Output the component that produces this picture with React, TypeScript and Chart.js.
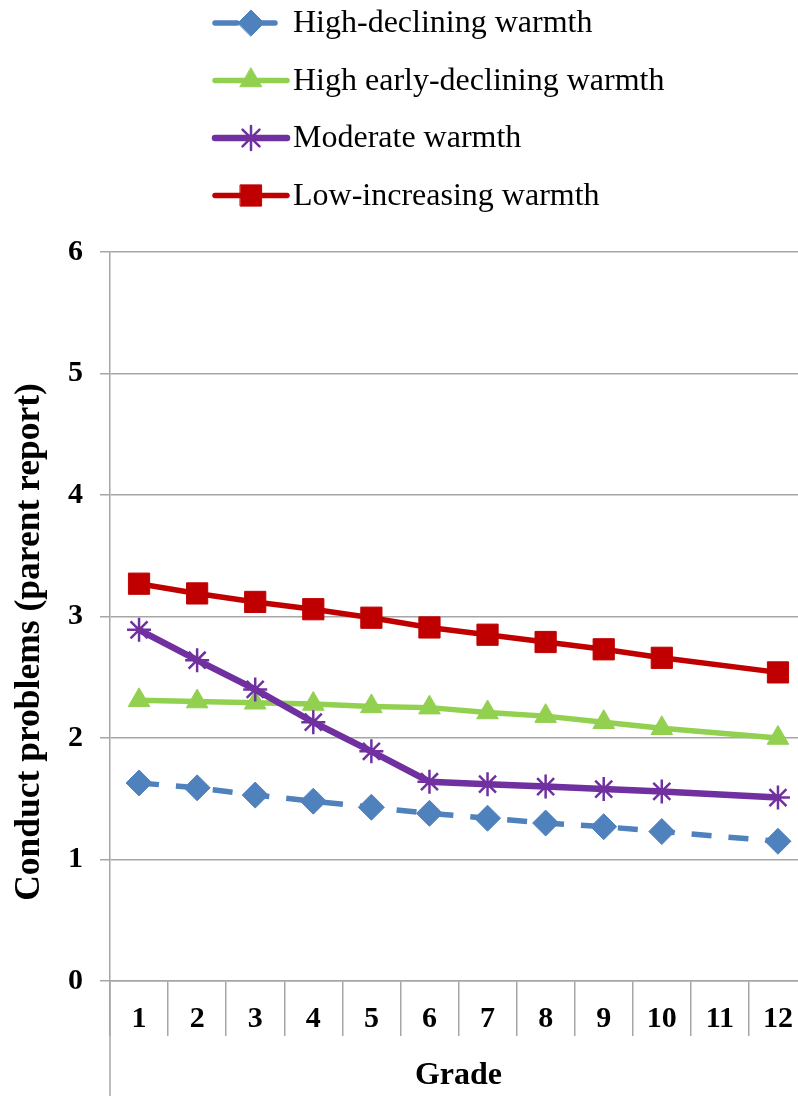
import React, { useEffect, useRef } from "react";
import { Chart, registerables } from "chart.js";
import { drawPoint } from "chart.js/helpers";

Chart.register(...registerables);

const GRADES = ["1", "2", "3", "4", "5", "6", "7", "8", "9", "10", "11", "12"];
const HIGH_DECLINING = [1.63, 1.59, 1.53, 1.48, 1.43, 1.38, 1.34, 1.30, 1.27, 1.23, null, 1.15];
const HIGH_EARLY_DECLINING = [2.31, 2.30, 2.29, 2.28, 2.26, 2.25, 2.21, 2.18, 2.13, 2.08, null, 2.0];
const MODERATE = [2.89, 2.64, 2.40, 2.13, 1.89, 1.64, 1.62, 1.60, 1.58, 1.56, null, 1.51];
const LOW_INCREASING = [3.27, 3.19, 3.12, 3.06, 2.99, 2.91, 2.85, 2.79, 2.73, 2.66, null, 2.54];
const SERIES_NAMES = [
  "High-declining warmth",
  "High early-declining warmth",
  "Moderate warmth",
  "Low-increasing warmth",
];
const Y_TITLE = "Conduct problems (parent report)";
const X_TITLE = "Grade";

const GRID = "#a6a6a6";
const FONT = '"Liberation Serif", "Times New Roman", serif';
const CANVAS_W = 810;
const CANVAS_H = 1096;

const legendPlugin = {
  id: "customDecor",
  afterDraw(chart: any) {
    const ctx = chart.ctx as CanvasRenderingContext2D;
    const { left, bottom } = chart.chartArea;
    ctx.save();
    ctx.strokeStyle = GRID;
    ctx.lineWidth = 1.5;
    ctx.beginPath();
    ctx.moveTo(left, bottom);
    ctx.lineTo(left, chart.height);
    ctx.stroke();
    ctx.restore();

    ctx.save();
    ctx.translate(30, 642);
    ctx.rotate(-Math.PI / 2);
    ctx.font = `bold 35.5px ${FONT}`;
    ctx.fillStyle = "#000";
    ctx.textAlign = "center";
    ctx.textBaseline = "middle";
    ctx.fillText(Y_TITLE, 0, 0);
    ctx.restore();

    chart.data.datasets.forEach((ds: any, i: number) => {
      const y = 23 + i * 57.5;
      ctx.save();
      ctx.strokeStyle = ds.borderColor;
      ctx.lineWidth = ds.borderWidth;
      ctx.lineCap = "round";
      if (ds.borderDash && ds.borderDash.length) {
        ctx.setLineDash([22, 16]);
        ctx.beginPath();
        ctx.moveTo(215, y);
        ctx.lineTo(277, y);
        ctx.stroke();
      } else {
        ctx.beginPath();
        ctx.moveTo(215, y);
        ctx.lineTo(287, y);
        ctx.stroke();
      }
      ctx.setLineDash([]);
      ctx.fillStyle = ds.pointBackgroundColor;
      ctx.strokeStyle = ds.pointBorderColor;
      ctx.lineWidth = ds.pointBorderWidth;
      drawPoint(
        ctx,
        { pointStyle: ds.pointStyle, radius: ds.pointRadius, rotation: 0, borderWidth: ds.pointBorderWidth },
        251,
        y
      );
      ctx.fillStyle = "#000";
      ctx.font = `32px ${FONT}`;
      ctx.textAlign = "left";
      ctx.textBaseline = "middle";
      ctx.fillText(ds.label, 293, y + 1);
      ctx.restore();
    });
  },
};

export default function App() {
  const ref = useRef<HTMLCanvasElement>(null);
  useEffect(() => {
    if (!ref.current) return;
    const mk = (label: string, data: any[], color: string, style: string, radius: number, order: number, extra: any = {}) => ({
      label,
      data,
      borderColor: color,
      backgroundColor: color,
      pointBackgroundColor: color,
      pointBorderColor: color,
      pointStyle: style,
      pointRadius: radius,
      pointHoverRadius: radius,
      pointBorderWidth: 1,
      borderWidth: 5.5,
      spanGaps: true,
      tension: 0,
      fill: false,
      order,
      ...extra,
    });
    const chart = new Chart(ref.current, {
      type: "line",
      data: {
        labels: GRADES,
        datasets: [
          mk(SERIES_NAMES[0], HIGH_DECLINING, "#4f81bd", "rectRot", 13, 4, { borderDash: [20, 17] }),
          mk(SERIES_NAMES[1], HIGH_EARLY_DECLINING, "#92d050", "triangle", 12.5, 3),
          mk(SERIES_NAMES[2], MODERATE, "#7030a0", "star", 12, 2, { pointBorderWidth: 2.5, borderWidth: 6.5 }),
          mk(SERIES_NAMES[3], LOW_INCREASING, "#c00000", "rect", 15, 1),
        ],
      },
      options: {
        responsive: false,
        maintainAspectRatio: false,
        animation: false,
        devicePixelRatio: 1,
        layout: { autoPadding: false, padding: { top: 252, left: 0, right: 3, bottom: 0 } },
        plugins: {
          legend: { display: false },
          tooltip: { enabled: false },
          title: { display: false },
        },
        scales: {
          x: {
            type: "category",
            offset: true,
            grid: {
              offset: true,
              drawOnChartArea: false,
              drawTicks: true,
              tickLength: 55,
              color: GRID,
              lineWidth: 1.5,
            },
            border: { display: true, color: GRID, width: 1.5 },
            ticks: {
              color: "#000",
              font: { family: FONT, size: 30, weight: "bold" },
              padding: -35,
              maxRotation: 0,
              autoSkip: false,
            },
            title: {
              display: true,
              text: X_TITLE,
              color: "#000",
              font: { family: FONT, size: 32, weight: "bold" },
              padding: { top: 0, bottom: 1 },
            },
            afterFit: (s: any) => {
              s.height = 115;
              s.paddingLeft = 0;
              s.paddingRight = 0;
            },
          },
          y: {
            min: 0,
            max: 6,
            ticks: {
              stepSize: 1,
              color: "#000",
              font: { family: FONT, size: 30, weight: "bold" },
              padding: 17,
            },
            grid: {
              color: GRID,
              lineWidth: 1.5,
              drawTicks: true,
              tickLength: 10,
            },
            border: { display: true, color: GRID, width: 1.5 },
            afterFit: (s: any) => {
              s.width = 110;
            },
          },
        },
      },
      plugins: [legendPlugin],
    } as any);
    return () => chart.destroy();
  }, []);
  return (
    <div
      style={{
        position: "fixed",
        left: 0,
        top: 0,
        width: CANVAS_W,
        height: CANVAS_H,
        overflow: "hidden",
        background: "#fff",
      }}
    >
      <canvas
        ref={ref}
        width={CANVAS_W}
        height={CANVAS_H}
        style={{ display: "block", width: CANVAS_W, height: CANVAS_H }}
      />
    </div>
  );
}
